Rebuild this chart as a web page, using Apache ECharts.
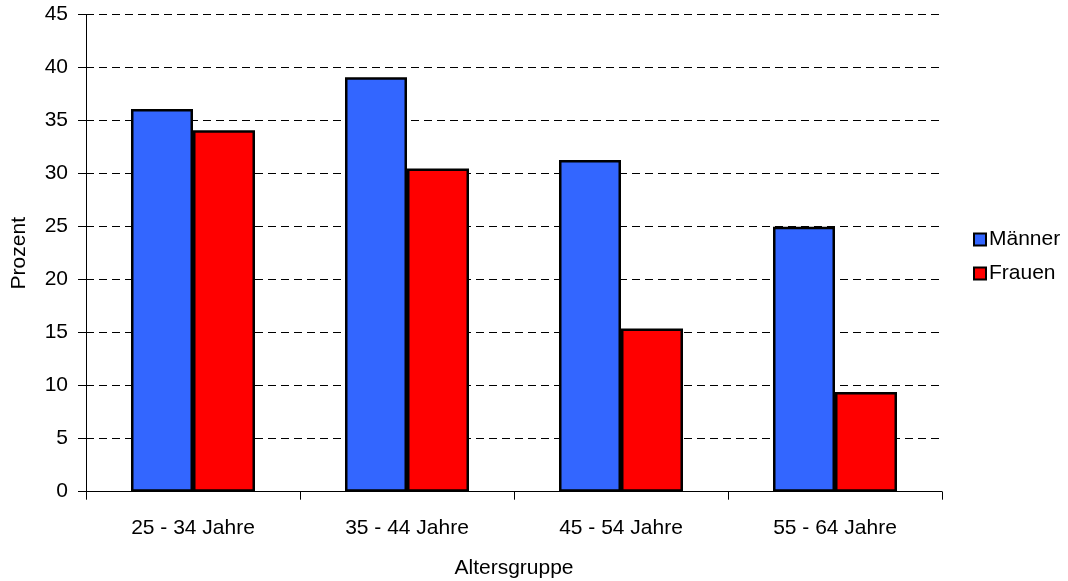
<!DOCTYPE html>
<html>
<head>
<meta charset="utf-8">
<script src="https://cdn.jsdelivr.net/npm/echarts@6/dist/echarts.min.js"></script>
<style>
  html, body { margin: 0; padding: 0; background: #fff; }
  #chart { width: 1068px; height: 581px; }
</style>
</head>
<body>
<div id="chart"></div>
<script>
// Age groups on the category axis
const categories = ['25 - 34 Jahre', '35 - 44 Jahre', '45 - 54 Jahre', '55 - 64 Jahre'];
// Share in percent per group
const maenner = [36.1, 39.1, 31.3, 25.0];
const frauen = [34.1, 30.5, 15.4, 9.4];
const seriesNames = ['Männer', 'Frauen'];

const FONT = 'Liberation Sans, Arial, sans-serif';
const FS = 21;
const chart = echarts.init(document.getElementById('chart'), null, { renderer: 'canvas' });

chart.setOption({
  animation: false,
  backgroundColor: '#ffffff',
  textStyle: { fontFamily: FONT, color: '#000' },
  grid: { left: 86, right: 126, top: 14.7, bottom: 89.3, containLabel: false, outerBoundsMode: 'none' },
  legend: {
    orient: 'vertical',
    left: 973,
    top: 229,
    padding: 0,
    itemWidth: 12,
    itemHeight: 12,
    itemGap: 13,
    icon: 'rect',
    textStyle: { fontFamily: FONT, fontSize: FS, color: '#000', padding: [0, 0, 0, -2] },
    data: seriesNames
  },
  xAxis: {
    type: 'category',
    data: categories,
    name: 'Altersgruppe',
    nameLocation: 'middle',
    nameGap: 66,
    nameTextStyle: { fontFamily: FONT, fontSize: FS, color: '#000' },
    axisLine: { lineStyle: { color: '#000', width: 1 } },
    axisTick: { show: true, length: 8, alignWithLabel: false, lineStyle: { color: '#000' } },
    axisLabel: { fontFamily: FONT, fontSize: FS, color: '#000', margin: 26 }
  },
  yAxis: {
    type: 'value',
    min: 0,
    max: 45,
    interval: 5,
    name: 'Prozent',
    nameLocation: 'middle',
    nameGap: 56,
    nameTextStyle: { fontFamily: FONT, fontSize: FS, color: '#000' },
    axisLine: { show: true, lineStyle: { color: '#000', width: 1 } },
    axisTick: { show: true, length: 8, lineStyle: { color: '#000' } },
    axisLabel: { fontFamily: FONT, fontSize: FS, color: '#000', margin: 18 },
    splitLine: { show: true, lineStyle: { color: '#000', type: [8, 5], width: 1 } }
  },
  series: [
    {
      name: seriesNames[0],
      type: 'bar',
      data: maenner,
      barWidth: 62,
      barGap: '0%',
      itemStyle: { color: '#3366ff', borderColor: '#000', borderWidth: 2.5 }
    },
    {
      name: seriesNames[1],
      type: 'bar',
      data: frauen,
      barWidth: 62,
      barGap: '0%',
      itemStyle: { color: '#ff0000', borderColor: '#000', borderWidth: 2.5 }
    }
  ]
});
</script>
</body>
</html>
